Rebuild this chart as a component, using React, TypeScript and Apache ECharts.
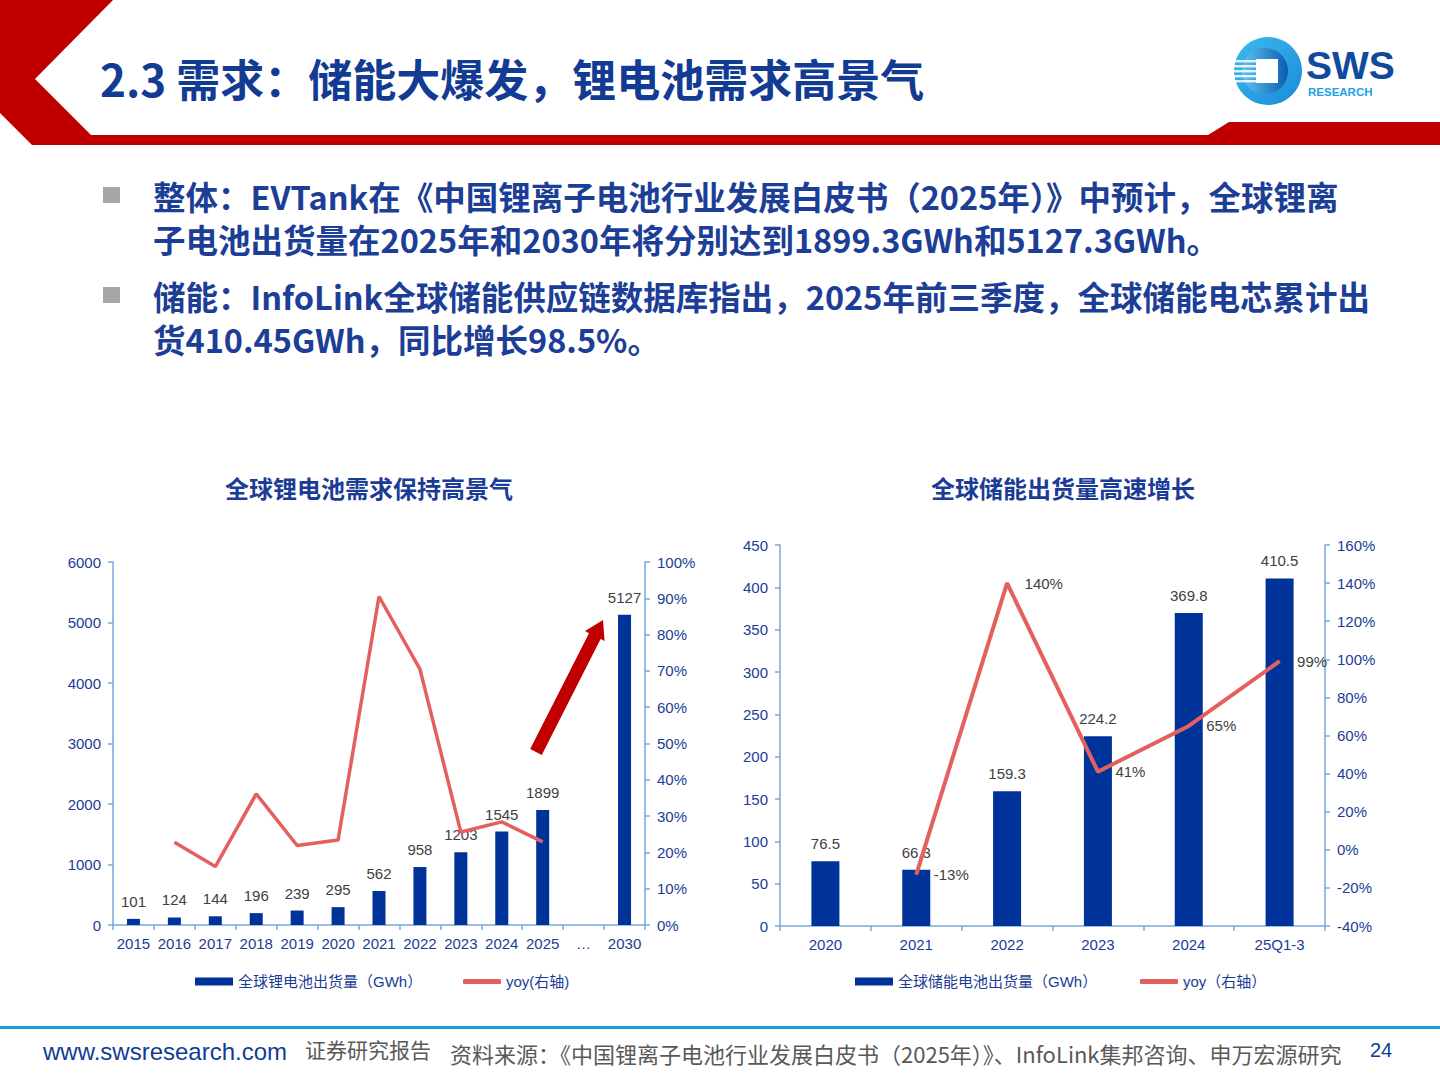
import React, { useEffect, useRef } from "react";
import * as echarts from "echarts";

// Global lithium battery shipments (GWh) and year-on-year growth (%)
const liCategories = ["2015", "2016", "2017", "2018", "2019", "2020", "2021", "2022", "2023", "2024", "2025", "…", "2030"];
const liShipments = [101, 124, 144, 196, 239, 295, 562, 958, 1203, 1545, 1899, null, 5127];
const liYoy = [null, 22.8, 16.1, 36.1, 21.9, 23.4, 90.5, 70.5, 25.6, 28.4, 22.9, null, null];

// Global energy-storage battery shipments (GWh) and year-on-year growth (%)
const essCategories = ["2020", "2021", "2022", "2023", "2024", "25Q1-3"];
const essShipments = [76.5, 66.3, 159.3, 224.2, 369.8, 410.5];
const essYoy = [null, -13, 140, 41, 65, 99];

// Axis ranges
const liLeftRange = { min: 0, max: 6000, interval: 1000 };
const liRightRange = { min: 0, max: 100, interval: 10 };
const essLeftRange = { min: 0, max: 450, interval: 50 };
const essRightRange = { min: -40, max: 160, interval: 20 };

const BLUE_TEXT = "#1b3c96";
const BAR_BLUE = "#003399";
const LINE_RED = "#e4605e";
const AXIS_BLUE = "#76a9dc";
const LABEL_GREY = "#404040";
const FONT = '"Liberation Sans", "Noto Sans CJK SC", sans-serif';
const CJK = '"Noto Sans CJK SC", sans-serif';

const liBarName = "全球锂电池出货量（GWh）";
const liLineName = "yoy(右轴)";
const essBarName = "全球储能电池出货量（GWh）";
const essLineName = "yoy（右轴）";

function valueAxis(gridIndex: number, range: any, position: string, suffix: string) {
  return {
    type: "value",
    gridIndex,
    position,
    min: range.min,
    max: range.max,
    interval: range.interval,
    axisLine: { show: true, lineStyle: { color: AXIS_BLUE, width: 1.5 } },
    axisTick: { show: true, inside: false, length: 5, lineStyle: { color: AXIS_BLUE, width: 1.5 } },
    splitLine: { show: false },
    axisLabel: {
      color: BLUE_TEXT,
      fontSize: 15,
      fontFamily: FONT,
      margin: 12,
      formatter: (v: number) => `${v}${suffix}`,
    },
  };
}

function categoryAxis(gridIndex: number, data: string[]) {
  return {
    type: "category",
    gridIndex,
    data,
    axisLine: { show: true, lineStyle: { color: AXIS_BLUE, width: 1.5 } },
    axisTick: { show: true, length: 5, alignWithLabel: false, lineStyle: { color: AXIS_BLUE, width: 1.5 } },
    axisLabel: { color: BLUE_TEXT, fontSize: 15, fontFamily: FONT, margin: 11, interval: 0 },
  };
}

function legendItem(name: string, left: number, icon: string, h: number) {
  return {
    left,
    top: 974,
    padding: 0,
    data: [{ name, icon }],
    itemWidth: 38,
    itemHeight: h,
    itemGap: 0,
    textStyle: { color: BLUE_TEXT, fontSize: 15, fontFamily: FONT },
    selectedMode: false,
  };
}

function text(x: number, y: number, t: string, size: number, fill: string, weight = "normal", family = CJK, align = "left") {
  return {
    type: "text",
    x,
    y,
    style: { text: t, fontSize: size, fontWeight: weight, fontFamily: family, fill, align, verticalAlign: "middle" },
  };
}

// Arrow pointing up towards the 2030 bar
function arrowPoints() {
  return [
    [530.2, 749.1],
    [589.0, 633.2],
    [585.0, 631.1],
    [603.0, 620.0],
    [604.6, 641.1],
    [600.6, 639.0],
    [541.8, 754.9],
  ];
}

export default function App() {
  const ref = useRef<HTMLDivElement>(null);

  useEffect(() => {
    if (!ref.current) return;
    const chart = echarts.init(ref.current, undefined, { renderer: "svg" });

    const stripes = [60, 65, 70, 75, 80].map((y) => ({
      type: "rect",
      shape: { x: 1234, y, width: 22, height: 2.4 },
      style: { fill: "rgba(255,255,255,0.85)" },
    }));

    const option: any = {
      animation: false,
      backgroundColor: "#ffffff",
      title: [
        {
          text: "全球锂电池需求保持高景气",
          left: 364,
          top: 470,
          textAlign: "center",
          textStyle: { color: BLUE_TEXT, fontSize: 24, fontWeight: "bold", fontFamily: CJK },
        },
        {
          text: "全球储能出货量高速增长",
          left: 1058,
          top: 470,
          textAlign: "center",
          textStyle: { color: BLUE_TEXT, fontSize: 24, fontWeight: "bold", fontFamily: CJK },
        },
      ],
      grid: [
        { left: 113, top: 562, width: 532, height: 363 },
        { left: 780, top: 545, width: 545, height: 381 },
      ],
      xAxis: [categoryAxis(0, liCategories), categoryAxis(1, essCategories)],
      yAxis: [
        valueAxis(0, liLeftRange, "left", ""),
        valueAxis(0, liRightRange, "right", "%"),
        valueAxis(1, essLeftRange, "left", ""),
        valueAxis(1, essRightRange, "right", "%"),
      ],
      legend: [
        legendItem(liBarName, 195, "rect", 8),
        legendItem(liLineName, 463, "roundRect", 5),
        legendItem(essBarName, 855, "rect", 8),
        legendItem(essLineName, 1140, "roundRect", 5),
      ],
      series: [
        {
          name: liBarName,
          type: "bar",
          xAxisIndex: 0,
          yAxisIndex: 0,
          data: liShipments,
          barWidth: 13,
          itemStyle: { color: BAR_BLUE },
          label: { show: true, position: "top", distance: 10, color: LABEL_GREY, fontSize: 15, fontFamily: FONT },
        },
        {
          name: liLineName,
          type: "line",
          xAxisIndex: 0,
          yAxisIndex: 1,
          data: liYoy,
          symbol: "none",
          lineStyle: { color: LINE_RED, width: 3.5 },
          itemStyle: { color: LINE_RED },
          z: 3,
        },
        {
          name: essBarName,
          type: "bar",
          xAxisIndex: 1,
          yAxisIndex: 2,
          data: essShipments,
          barWidth: 28,
          itemStyle: { color: BAR_BLUE },
          label: { show: true, position: "top", distance: 10, color: LABEL_GREY, fontSize: 15, fontFamily: FONT },
        },
        {
          name: essLineName,
          type: "line",
          xAxisIndex: 1,
          yAxisIndex: 3,
          data: essYoy,
          symbol: "circle",
          symbolSize: 1,
          showSymbol: true,
          lineStyle: { color: LINE_RED, width: 4 },
          itemStyle: { color: LINE_RED },
          label: {
            show: true,
            position: "right",
            distance: 17,
            formatter: "{c}%",
            color: LABEL_GREY,
            fontSize: 15,
            fontFamily: FONT,
          },
          z: 3,
        },
      ],
      graphic: [
        // header band
        {
          type: "polygon",
          shape: {
            points: [
              [0, 0], [113, 0], [35, 79], [91, 135], [1208, 135], [1229, 122],
              [1440, 122], [1440, 145], [32, 145], [0, 113],
            ],
          },
          style: { fill: "#c00000" },
        },
        text(100, 78, "2.3 需求：储能大爆发，锂电池需求高景气", 44, "#123b93", "bold"),
        // logo
        {
          type: "circle",
          shape: { cx: 1268, cy: 71, r: 34 },
          style: {
            fill: new echarts.graphic.LinearGradient(0, 0, 1, 1, [
              { offset: 0, color: "#3dbbef" },
              { offset: 1, color: "#1a8ad8" },
            ]),
          },
        },
        {
          type: "circle",
          shape: { cx: 1265, cy: 71, r: 23 },
          style: {
            fill: new echarts.graphic.LinearGradient(0, 0, 1, 0, [
              { offset: 0, color: "#5fc4f0" },
              { offset: 1, color: "#0b5cb0" },
            ]),
          },
        },
        ...stripes,
        { type: "rect", shape: { x: 1256, y: 59, width: 22, height: 24 }, style: { fill: "#ffffff" } },
        text(1306, 65, "SWS", 39, "#0f4a9e", "bold", FONT),
        text(1308, 92, "RESEARCH", 11.5, "#1aa3e8", "bold", FONT),
        // bullet points
        { type: "rect", shape: { x: 103, y: 187, width: 17, height: 16 }, style: { fill: "#a6a6a6" } },
        { type: "rect", shape: { x: 103, y: 287, width: 17, height: 16 }, style: { fill: "#a6a6a6" } },
        text(153, 195, "整体：EVTank在《中国锂离子电池行业发展白皮书（2025年）》中预计，全球锂离", 32.5, "#1c3e96", "bold"),
        text(153, 238, "子电池出货量在2025年和2030年将分别达到1899.3GWh和5127.3GWh。", 32.5, "#1c3e96", "bold"),
        text(153, 295, "储能：InfoLink全球储能供应链数据库指出，2025年前三季度，全球储能电芯累计出", 32.5, "#1c3e96", "bold"),
        text(153, 338, "货410.45GWh，同比增长98.5%。", 32.5, "#1c3e96", "bold"),
        // growth arrow
        { type: "polygon", shape: { points: arrowPoints() }, style: { fill: "#c00000" } },
        // footer
        { type: "rect", shape: { x: 0, y: 1026, width: 1440, height: 3 }, style: { fill: "#1a9ddb" } },
        text(43, 1051, "www.swsresearch.com", 24, "#0f3d96", "normal", FONT),
        text(305, 1049, "证券研究报告", 21, "#595959"),
        text(450, 1053, "资料来源：《中国锂离子电池行业发展白皮书（2025年）》、InfoLink集邦咨询、申万宏源研究", 22, "#595959"),
        text(1370, 1050, "24", 20, "#0f3d96", "normal", FONT),
      ],
    };

    chart.setOption(option);
    return () => chart.dispose();
  }, []);

  return (
    <div
      ref={ref}
      style={{ position: "absolute", left: 0, top: 0, width: 1440, height: 1080, background: "#ffffff" }}
    />
  );
}
